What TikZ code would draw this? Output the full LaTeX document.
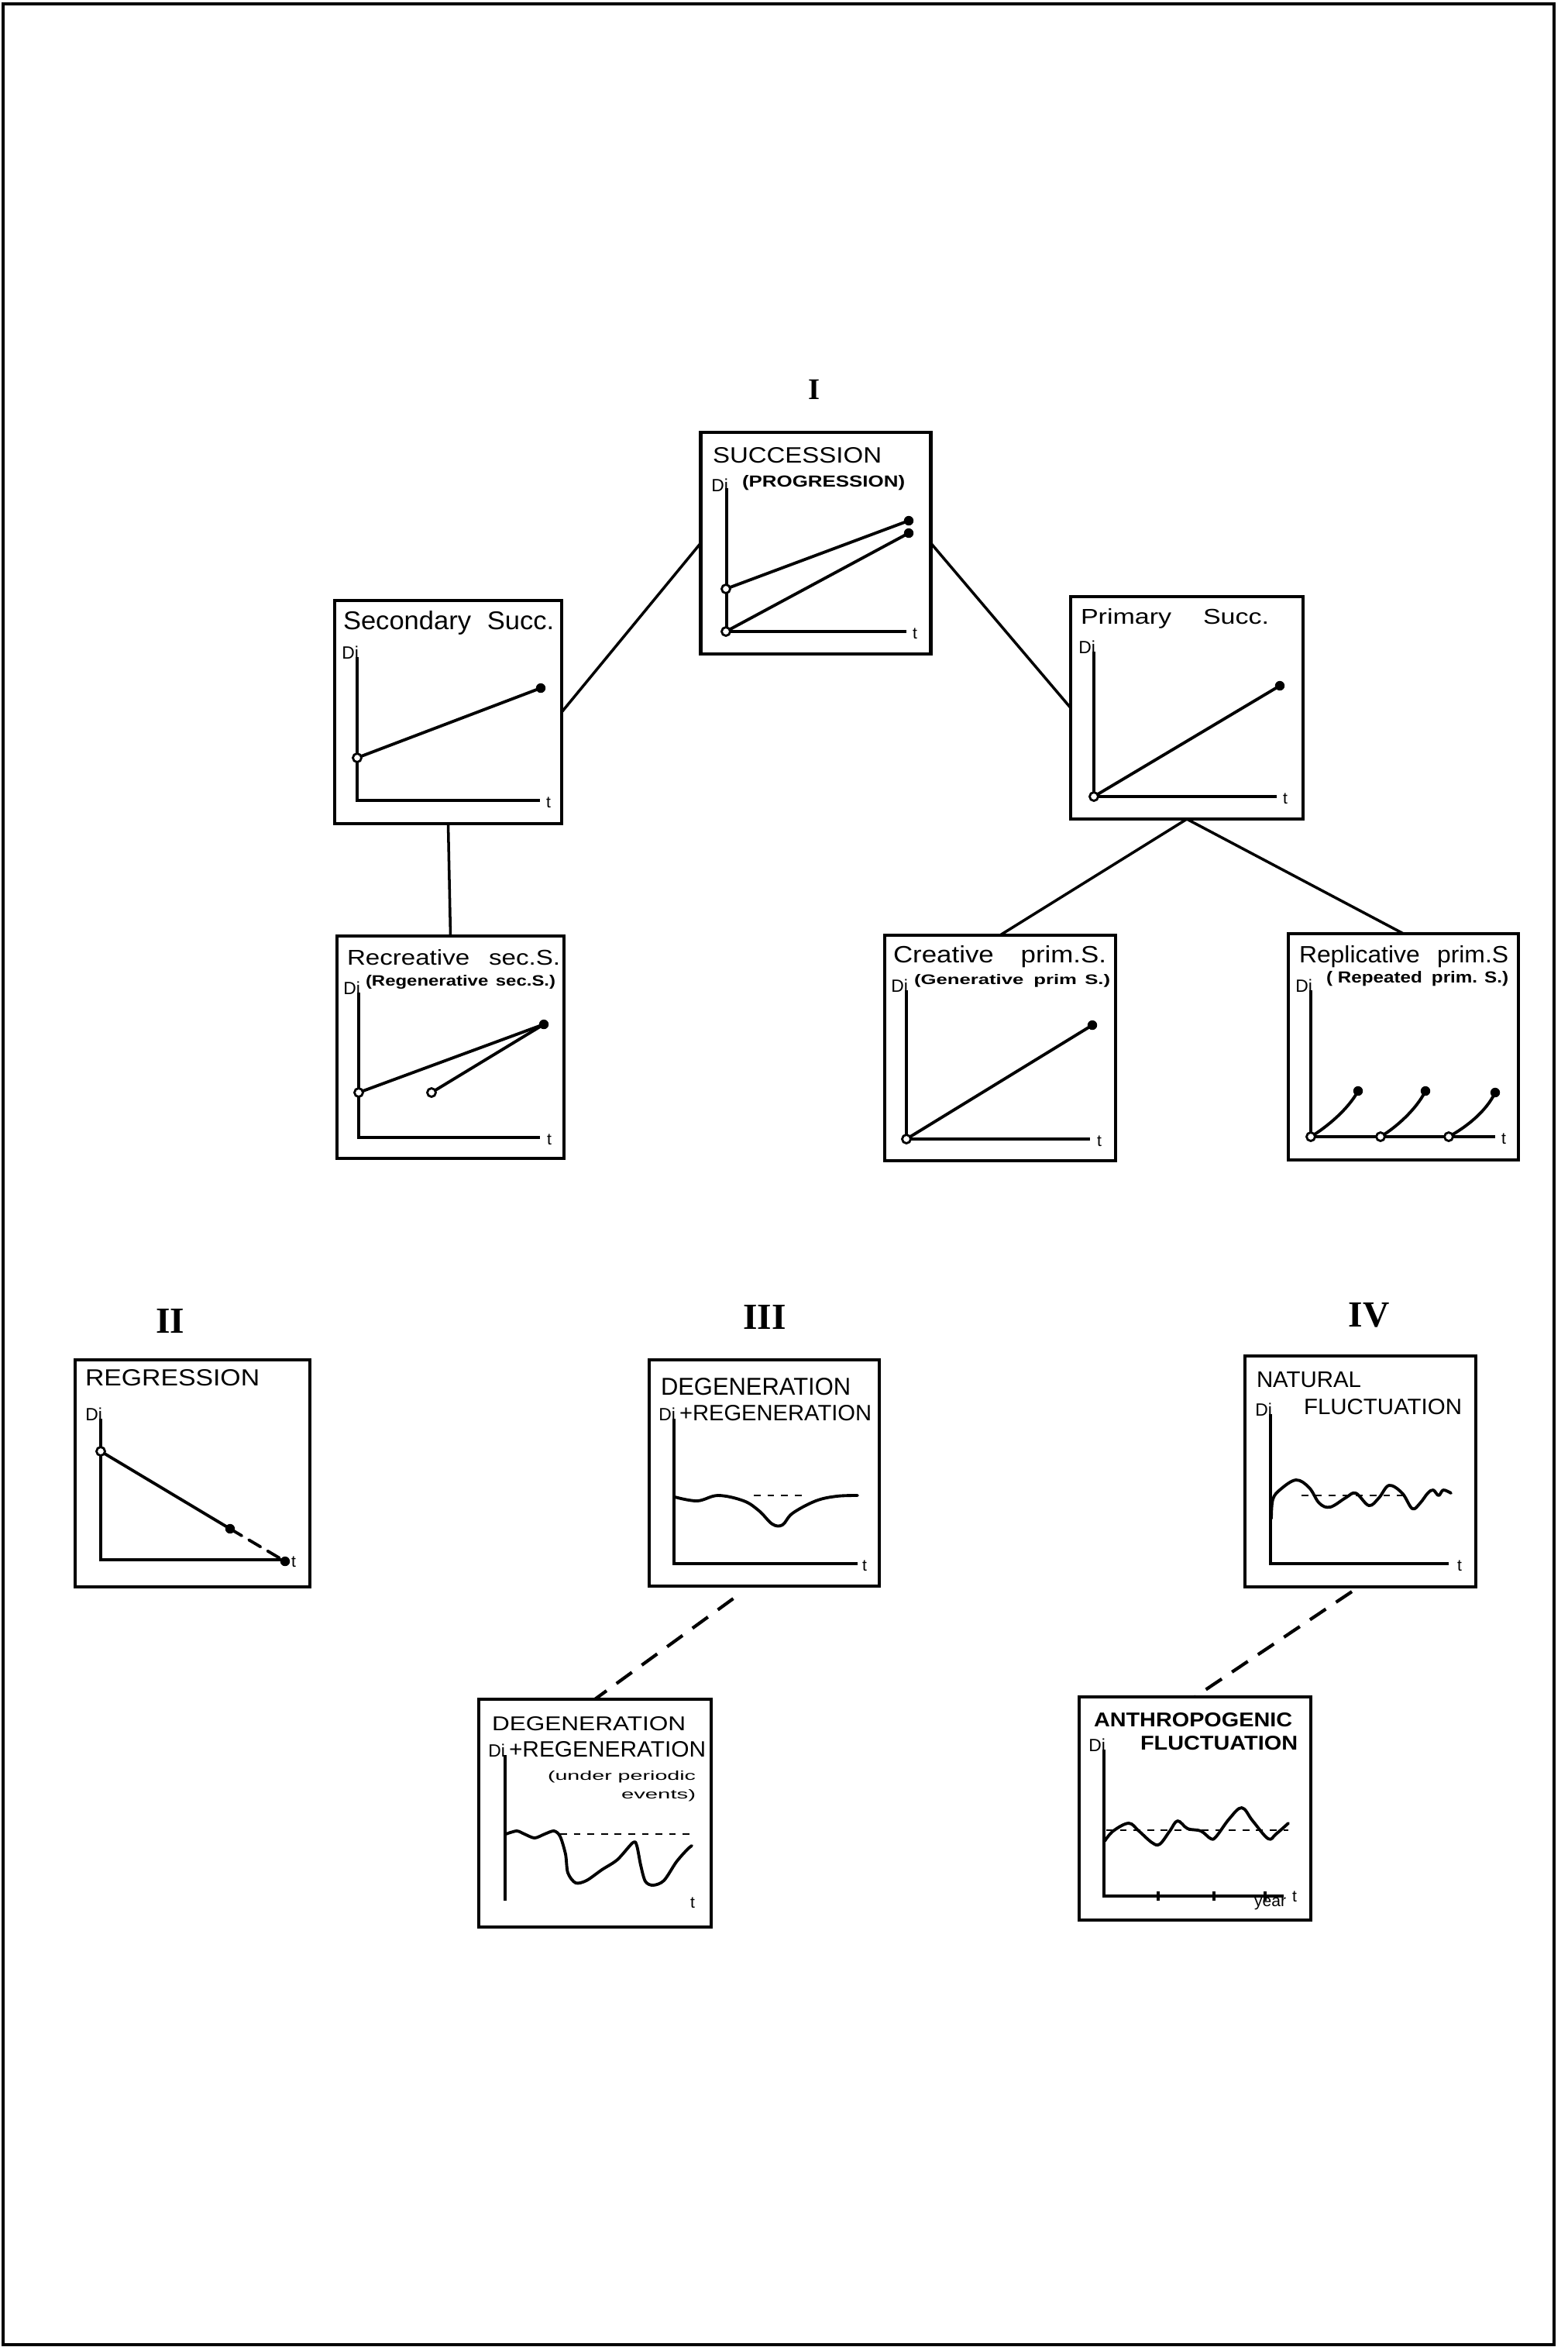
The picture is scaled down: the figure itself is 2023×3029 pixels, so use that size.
\documentclass[tikz,border=0pt]{standalone}
\usepackage{fontspec}
\setmainfont{Liberation Serif}
\setsansfont{Liberation Sans}
\usepackage{graphicx}
\newcommand\fitt[3]{\resizebox{#1cm}{#2cm}{#3}}
\newcommand\opn[1]{\draw[openmk] (#1) circle[radius=0.055cm];}
\newcommand\ful[1]{\fill[fullmk] (#1) circle[radius=0.062cm];}
\tikzset{
 panel/.style={draw, line width=1.3pt, rectangle, inner sep=0pt, outer sep=0pt},
 ttl/.style={inner sep=0pt, outer sep=0pt, anchor=base west, font=\sffamily},
 dilbl/.style={inner sep=0pt, outer sep=0pt, anchor=base east, font=\sffamily\fontsize{6.5}{7}\selectfont},
 tlbl/.style={inner sep=0pt, outer sep=0pt, anchor=west, font=\sffamily\fontsize{6}{7}\selectfont},
 rom/.style={inner sep=0pt, outer sep=0pt, anchor=base, font=\rmfamily\bfseries\fontsize{13.5}{15}\selectfont},
 axisl/.style={line width=0.9pt},
 crv/.style={line width=1.1pt, line join=round, line cap=round},
 conn/.style={line width=1.0pt},
 dconn/.style={line width=1.2pt, dash pattern=on 7pt off 4.5pt},
 refl/.style={line width=0.5pt, dash pattern=on 2.5pt off 2.5pt},
 openmk/.style={draw, fill=white, line width=0.8pt},
 fullmk/.style={fill=black},
}
\begin{document}
\begin{tikzpicture}[x=0.01cm, y=-0.01cm]
\useasboundingbox (0,0) rectangle (2023,3029);
\draw[line width=0.9pt] (4,5) rectangle (2006,3026);

% ---------- panels ----------
\node[panel, minimum width=2.97cm, minimum height=2.86cm] (succ) at (1053,701) {};
\node[panel, minimum width=2.93cm, minimum height=2.88cm] (sec)  at (578.5,919) {};
\node[panel, minimum width=3.00cm, minimum height=2.87cm] (prim) at (1532,913.5) {};
\node[panel, minimum width=2.93cm, minimum height=2.87cm] (rec)  at (581.5,1351.5) {};
\node[panel, minimum width=2.98cm, minimum height=2.91cm] (crea) at (1291,1352.5) {};
\node[panel, minimum width=2.97cm, minimum height=2.92cm] (rep)  at (1811.5,1351) {};
\node[panel, minimum width=3.03cm, minimum height=2.93cm] (reg)  at (248.5,1901.5) {};
\node[panel, minimum width=2.97cm, minimum height=2.92cm] (deg)  at (986.5,1901) {};
\node[panel, minimum width=2.98cm, minimum height=2.98cm] (nat)  at (1756,1899) {};
\node[panel, minimum width=3.00cm, minimum height=2.94cm] (deg2) at (768,2340) {};
\node[panel, minimum width=2.99cm, minimum height=2.88cm] (anth) at (1542.5,2334) {};

% ---------- connectors ----------
\draw[conn] (sec.east) -- (succ.west);
\draw[conn] (succ.east) -- (prim.west);
\draw[conn] (sec.south) -- (rec.north);
\draw[conn] (prim.south) -- (crea.north);
\draw[conn] (prim.south) -- (rep.north);
\draw[dconn] ([xshift=-0.4cm,yshift=-0.16cm]deg.south) -- (deg2.north);
\draw[dconn] ([xshift=-0.11cm,yshift=-0.06cm]nat.south) -- (anth.north);

% ---------- roman numerals ----------
\node[rom, font=\rmfamily\bfseries\fontsize{11}{12}\selectfont] (nI) at (1051,515) {I};
\node[rom] (nII) at (220,1720) {II};
\node[rom] (nIII) at (987,1715) {III};
\node[rom] (nIV) at (1767,1712) {IV};

% ---------- SUCCESSION ----------
\node[ttl] (succ-t1) at (920,597) {\fitt{2.18}{0.20}{SUCCESSION}};
\node[ttl] (succ-t2) at (958,628) {\fitt{2.10}{0.15}{\bfseries (PROGRESSION)}};
\node[dilbl] (succ-di) at (940,634) {Di};
\draw[axisl] (938,630) -- (938,815) -- (1170,815);
\node[tlbl] (succ-tt) at (1178,818) {t};
\draw[crv] (937,760) -- (1173,672);
\draw[crv] (937,815) -- (1173,688);
\opn{937,760} \opn{937,815}
\ful{1173,672} \ful{1173,688}

% ---------- Secondary ----------
\node[ttl] (sec-t1) at (443,812) {\fitt{2.72}{0.24}{Secondary\hspace{0.6em}Succ.}};
\node[dilbl] (sec-di) at (463,850) {Di};
\draw[axisl] (461,848) -- (461,1033) -- (697,1033);
\node[tlbl] (sec-tt) at (705,1036) {t};
\draw[crv] (461,978) -- (698,888);
\opn{461,978} \ful{698,888}

% ---------- Primary ----------
\node[ttl] (prim-t1) at (1395,805) {\fitt{2.43}{0.20}{Primary\hspace{1.2em}Succ.}};
\node[dilbl] (prim-di) at (1414,843) {Di};
\draw[axisl] (1412,841) -- (1412,1028) -- (1648,1028);
\node[tlbl] (prim-tt) at (1656,1031) {t};
\draw[crv] (1412,1028) -- (1652,885);
\opn{1412,1028} \ful{1652,885}

% ---------- Recreative ----------
\node[ttl] (rec-t1) at (448,1245) {\fitt{2.75}{0.20}{Recreative\hspace{0.75em}sec.S.}};
\node[ttl] (rec-t2) at (472,1272) {\fitt{2.45}{0.14}{\bfseries (Regenerative\hspace{0.4em}sec.S.)}};
\node[dilbl] (rec-di) at (465,1283) {Di};
\draw[axisl] (463,1281) -- (463,1468) -- (697,1468);
\node[tlbl] (rec-tt) at (706,1471) {t};
\draw[crv] (463,1410) -- (702,1322);
\draw[crv] (557,1410) -- (702,1322);
\opn{463,1410} \opn{557,1410} \ful{702,1322}

% ---------- Creative ----------
\node[ttl] (crea-t1) at (1153,1242) {\fitt{2.75}{0.22}{Creative\hspace{1em}prim.S.}};
\node[ttl] (crea-t2) at (1180,1270) {\fitt{2.53}{0.13}{\bfseries (Generative\hspace{0.5em}prim\hspace{0.4em}S.)}};
\node[dilbl] (crea-di) at (1172,1280) {Di};
\draw[axisl] (1170,1278) -- (1170,1470) -- (1407,1470);
\node[tlbl] (crea-tt) at (1416,1473) {t};
\draw[crv] (1170,1470) -- (1410,1323);
\opn{1170,1470} \ful{1410,1323}

% ---------- Replicative ----------
\node[ttl] (rep-t1) at (1677,1242) {\fitt{2.70}{0.22}{Replicative\hspace{0.7em}prim.S}};
\node[ttl] (rep-t2) at (1712,1268) {\fitt{2.35}{0.15}{\bfseries ( Repeated\hspace{0.5em}prim. S.)}};
\node[dilbl] (rep-di) at (1694,1280) {Di};
\draw[axisl] (1692,1278) -- (1692,1467) -- (1930,1467);
\node[tlbl] (rep-tt) at (1938,1470) {t};
\draw[crv] (1692,1467) .. controls (1712,1455) and (1740,1432) .. (1753,1408);
\draw[crv] (1782,1467) .. controls (1802,1455) and (1828,1432) .. (1840,1408);
\draw[crv] (1870,1467) .. controls (1892,1455) and (1918,1435) .. (1930,1410);
\opn{1692,1467} \opn{1782,1467} \opn{1870,1467}
\ful{1753,1408} \ful{1840,1408} \ful{1930,1410}

% ---------- REGRESSION ----------
\node[ttl] (reg-t1) at (110,1788) {\fitt{2.25}{0.21}{REGRESSION}};
\node[dilbl] (reg-di) at (132,1833) {Di};
\draw[axisl] (130,1831) -- (130,2013) -- (370,2013);
\node[tlbl] (reg-tt) at (376,2016) {t};
\draw[crv] (130,1873) -- (297,1973);
\draw[crv, dash pattern=on 5pt off 3pt] (297,1973) -- (368,2015);
\opn{130,1873} \ful{297,1973} \ful{368,2015}

% ---------- DEGENERATION + REGENERATION ----------
\node[ttl] (deg-t1) at (853,1800) {\fitt{2.45}{0.22}{DEGENERATION}};
\node[ttl] (deg-t2) at (877,1833) {\fitt{2.48}{0.20}{+REGENERATION}};
\node[dilbl] (deg-di) at (872,1833) {Di};
\draw[axisl] (870,1831) -- (870,2018) -- (1107,2018);
\node[tlbl] (deg-tt) at (1113,2021) {t};
\draw[refl] (973,1930) -- (1040,1930);
\draw[crv] plot[smooth, tension=0.6] coordinates {(871,1932) (900,1937) (927,1930) (960,1937) (980,1950) (997,1967) (1010,1968) (1023,1953) (1053,1937) (1080,1931) (1107,1930)};

% ---------- NATURAL FLUCTUATION ----------
\node[ttl] (nat-t1) at (1622,1790) {\fitt{1.35}{0.20}{NATURAL}};
\node[ttl] (nat-t2) at (1683,1825) {\fitt{2.04}{0.20}{FLUCTUATION}};
\node[dilbl] (nat-di) at (1642,1827) {Di};
\draw[axisl] (1640,1825) -- (1640,2018) -- (1870,2018);
\node[tlbl] (nat-tt) at (1881,2021) {t};
\draw[refl] (1680,1930) -- (1820,1930);
\draw[crv] plot[smooth, tension=0.6] coordinates {(1641,1960) (1643,1935) (1653,1922) (1673,1910) (1690,1920) (1703,1940) (1717,1945) (1737,1933) (1750,1927) (1767,1943) (1780,1933) (1793,1917) (1810,1927) (1823,1947) (1833,1940) (1843,1927) (1850,1923) (1857,1930) (1863,1923) (1873,1927)};

% ---------- DEGENERATION (periodic) ----------
\node[ttl] (deg2-t1) at (635,2233) {\fitt{2.50}{0.18}{DEGENERATION}};
\node[ttl] (deg2-t2) at (657,2267) {\fitt{2.54}{0.20}{+REGENERATION}};
\node[ttl] (deg2-t3) at (707,2297) {\fitt{1.91}{0.12}{(under periodic}};
\node[ttl] (deg2-t4) at (802,2321) {\fitt{0.96}{0.12}{events)}};
\node[dilbl] (deg2-di) at (652,2267) {Di};
\draw[axisl] (652,2265) -- (652,2453);
\node[tlbl] (deg2-tt) at (891,2456) {t};
\draw[refl] (723,2367) -- (893,2367);
\draw[crv] plot[smooth, tension=0.5] coordinates {(653,2367) (667,2363) (677,2367) (690,2372) (703,2367) (715,2363) (723,2370) (730,2393) (733,2417) (743,2430) (757,2427) (777,2413) (797,2400) (817,2378) (822,2382) (827,2407) (833,2428) (843,2433) (857,2427) (873,2403) (887,2387) (893,2382)};

% ---------- ANTHROPOGENIC FLUCTUATION ----------
\node[ttl] (anth-t1) at (1412,2228) {\fitt{2.56}{0.18}{\bfseries ANTHROPOGENIC}};
\node[ttl] (anth-t2) at (1472,2258) {\fitt{2.03}{0.18}{\bfseries FLUCTUATION}};
\node[dilbl] (anth-di) at (1427,2260) {Di};
\draw[axisl] (1425,2258) -- (1425,2447) -- (1657,2447);
\foreach \xx in {1495,1567,1633} \draw[axisl] (\xx,2441) -- (\xx,2453);
\node[ttl, font=\sffamily\fontsize{6}{7}\selectfont] (anth-yr) at (1619,2460) {year};
\node[tlbl] (anth-tt) at (1668,2448) {t};
\draw[refl] (1428,2362) -- (1663,2362);
\draw[crv] plot[smooth, tension=0.6] coordinates {(1426,2376) (1437,2363) (1457,2353) (1470,2363) (1487,2378) (1497,2380) (1510,2363) (1520,2350) (1533,2360) (1550,2363) (1563,2373) (1570,2370) (1587,2347) (1603,2333) (1617,2350) (1637,2373) (1647,2367) (1663,2353)};
\end{tikzpicture}
\end{document}
